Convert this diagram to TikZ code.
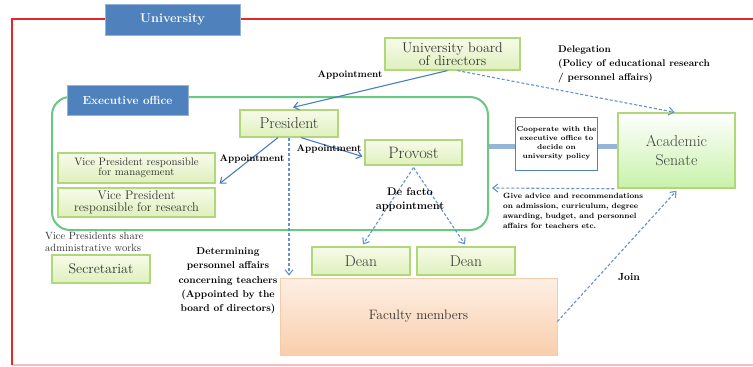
\documentclass[tikz,border=0pt]{standalone}
\usepackage{fontspec}
\usetikzlibrary{arrows.meta}
\definecolor{frameRed}{RGB}{228,40,40}
\definecolor{labelBlue}{RGB}{79,129,189}
\definecolor{execGreen}{RGB}{104,200,132}
\definecolor{boxEdge}{RGB}{176,216,120}
\definecolor{boxTop}{RGB}{247,251,234}
\definecolor{boxBot}{RGB}{222,240,188}
\definecolor{linkBlue}{RGB}{74,126,190}
\definecolor{dashBlue}{RGB}{100,145,205}
\definecolor{barBlue}{RGB}{150,180,218}
\definecolor{peachTop}{RGB}{253,240,229}
\definecolor{peachBot}{RGB}{249,206,172}
\definecolor{peachEdge}{RGB}{246,204,168}
\newcommand{\fsz}[1]{\fontsize{#1}{1.15\dimexpr#1pt\relax}\selectfont}
\begin{document}
\begin{tikzpicture}[x=1pt,y=-1pt,
  tag/.style={fill=labelBlue, draw=labelBlue!60!white, line width=1pt, text=white, font=\bfseries, inner sep=0pt},
  unit/.style={draw=boxEdge, line width=1.2pt, top color=boxTop, bottom color=boxBot, inner sep=1pt, align=center, text=black!80},
  note/.style={font=\bfseries, inner sep=0pt, align=center, text=black},
  solidarrow/.style={draw=linkBlue, line width=1.1pt, -{Straight Barb[length=5pt,width=8pt]}},
  dasharrow/.style={draw=dashBlue, line width=1.1pt, dash pattern=on 3pt off 2pt, -{Straight Barb[length=5pt,width=8pt]}},
  bar/.style={draw=barBlue, line width=4.5pt},
]
\useasboundingbox (0,0) rectangle (753,367);
\fill[white] (0,0) rectangle (753,367);

% outer university frame, open to the right
\begin{scope}
  \clip (0,0) rectangle (753,367);
  \draw[frameRed!30, line width=2pt] (12,365) -- (770,365);
  \draw[frameRed, line width=2.5pt] (12,365) -- (12,19) -- (770,19);
\end{scope}
\node[tag, minimum width=135pt, minimum height=31pt, font=\bfseries\fsz{12.7}] (uni) at (172.5,19.5) {University};

% executive office enclosure
\node[draw=execGreen, line width=2pt, rounded corners=18pt, minimum width=436pt, minimum height=133pt, inner sep=0pt] (exec) at (270,163.5) {};
\node[tag, minimum width=121pt, minimum height=30pt, font=\bfseries\fsz{11.7}] (execlabel) at (127.5,100) {Executive office};

% organisational units
\node[unit, minimum width=135pt, minimum height=32pt, font=\fsz{14}] (board) at (452.5,54) {University board\\[-3pt]of directors};
\node[unit, minimum width=98pt, minimum height=27pt, font=\fsz{15.7}] (pres) at (289,123.5) {President};
\node[unit, minimum width=97pt, minimum height=25pt, font=\fsz{16.5}] (prov) at (413.5,152.5) {Provost};
\node[unit, minimum width=157pt, minimum height=30pt, font=\fsz{10.8}] (vpm) at (136.5,168) {Vice President responsible\\[-2pt]for management};
\node[unit, minimum width=157pt, minimum height=29pt, font=\fsz{12.5}] (vpr) at (136.5,202.5) {Vice President\\[-3pt]responsible for research};
\node[unit, minimum width=98pt, minimum height=28pt, font=\fsz{14}] (sec) at (101,269) {Secretariat};
\node[unit, minimum width=98pt, minimum height=28pt, font=\fsz{15.5}] (dean1) at (361,261) {Dean};
\node[unit, minimum width=98pt, minimum height=28pt, font=\fsz{15.5}] (dean2) at (466,261) {Dean};
\node[draw=peachEdge, line width=0.8pt, top color=peachTop, bottom color=peachBot, minimum width=277pt, minimum height=77pt, font=\fsz{13.6}, text=black!80] (fac) at (418.5,316.5) {Faculty members};
\node[draw=boxEdge, line width=1.5pt, top color=white, bottom color=boxBot!90!green, minimum width=117pt, minimum height=75pt, align=center, font=\fsz{15.8}, text=black!75] (senate) at (676.5,150.5) {Academic\\Senate};
\node[draw=labelBlue, line width=0.8pt, fill=white, minimum width=77pt, minimum height=53pt, inner sep=1pt, align=center, font=\bfseries\fontsize{7.2}{9}\selectfont] (coop) at (556.5,143.5) {Cooperate with the\\executive office to\\decide on\\university policy};

% cooperation bars
\draw[bar] ([yshift=-3pt]coop.west) -- ([yshift=-3pt]coop.west -| exec.east);
\draw[bar] ([yshift=-3pt]coop.east) -- ([yshift=-3pt]coop.east -| senate.west);

% appointments and delegation
\draw[solidarrow] ([xshift=-5pt]board.south) -- ([xshift=4pt,yshift=2pt]pres.north);
\draw[dasharrow] ([xshift=5pt]board.south) -- ([xshift=-2pt]senate.north);
\draw[solidarrow] ([xshift=-11pt]pres.south) -- ([xshift=4pt]vpm.south east);
\draw[solidarrow] ([xshift=12pt]pres.south) -- ([yshift=-4pt,xshift=-2pt]prov.west);
\draw[dasharrow] (pres.south) -- ([yshift=2pt]pres.south |- fac.north);
\draw[dasharrow] ([yshift=-2pt]prov.south) -- ([xshift=2pt,yshift=2pt]dean1.north);
\draw[dasharrow] ([yshift=-2pt]prov.south) -- ([xshift=-1pt,yshift=2pt]dean2.north);
\coordinate (adviceEnd) at (492,188);
\draw[dasharrow] ([xshift=-3pt]senate.south west) -- (adviceEnd);
\draw[dasharrow] ([yshift=-5pt]fac.east) -- ([yshift=-2pt]senate.south);

% annotations
\node[note, font=\bfseries\fsz{9.7}] (apBoard) at (350,75) {Appointment};
\node[note, font=\bfseries\fsz{9.7}] (apVP) at (252,159) {Appointment};
\node[note, font=\bfseries\fsz{9.7}] (apProv) at (329,149) {Appointment};
\node[note, align=left, anchor=north west, font=\bfseries\fontsize{9.8}{14}\selectfont] (deleg) at (558,45) {Delegation\\(Policy of educational research\\/ personnel affairs)};
\node[note, font=\bfseries\fontsize{11}{14}\selectfont] (defacto) at (410,200) {De facto\\appointment};
\node[note, align=left, anchor=north west, font=\bfseries\fontsize{7.6}{10}\selectfont] (advice) at (503,193) {Give advice and recommendations\\on admission, curriculum, degree\\awarding, budget, and personnel\\affairs for teachers etc.};
\node[note, font=\bfseries\fsz{10.3}] (join) at (629,277) {Join};
\node[note, font=\bfseries\fontsize{10}{14.3}\selectfont] (determ) at (228,281) {Determining\\personnel affairs\\concerning teachers\\(Appointed by the\\board of directors)};
\node[inner sep=0pt, align=left, anchor=north west, text=black!80, font=\fontsize{10.5}{12.5}\selectfont] (share) at (45,232) {Vice Presidents share\\administrative works};
\end{tikzpicture}
\end{document}
